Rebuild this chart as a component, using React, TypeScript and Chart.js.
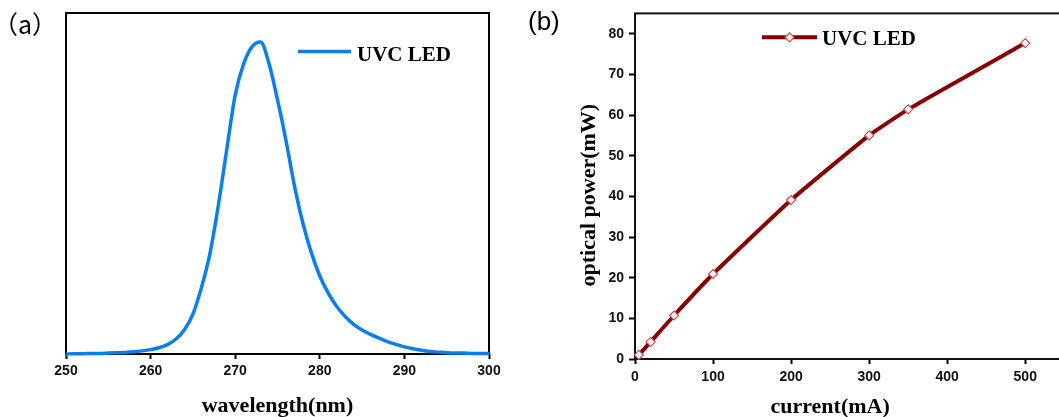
import React, { useEffect, useRef } from "react";
import { Chart, registerables } from "chart.js";

Chart.register(...registerables);

// ---------- data: panel (a) emission spectrum ----------
const wavelengths = [
  250, 251, 252, 253, 254, 255, 256, 257, 258, 259,
  260, 261, 262, 263, 264, 265, 266, 267, 268, 269,
  270, 271, 272, 273, 274, 275, 276, 277, 278, 279,
  280, 281, 282, 283, 284, 285, 286, 287, 288, 289,
  290, 291, 292, 293, 294, 295, 296, 297, 298, 299, 300,
];
const intensity = [
  0.0, 0.001, 0.001, 0.002, 0.002, 0.003, 0.004, 0.005, 0.007, 0.01,
  0.014, 0.02, 0.03, 0.048, 0.078, 0.128, 0.212, 0.32, 0.475, 0.655,
  0.83, 0.93, 0.985, 1.0, 0.93, 0.815, 0.685, 0.54, 0.42, 0.325,
  0.25, 0.195, 0.152, 0.12, 0.095, 0.077, 0.063, 0.051, 0.04, 0.031,
  0.023, 0.017, 0.012, 0.008, 0.006, 0.004, 0.003, 0.003, 0.002, 0.002, 0.002,
];
const wavelengthTicks = [250, 260, 270, 280, 290, 300];

// ---------- data: panel (b) optical power vs current ----------
const currents = [5, 20, 50, 100, 200, 300, 350, 500];
const powers = [1.0, 4.2, 10.7, 20.9, 39.1, 55.0, 61.4, 77.7];
const currentTicks = [0, 100, 200, 300, 400, 500, 600];
const powerTicks = [0, 10, 20, 30, 40, 50, 60, 70, 80];

const seriesLabel = "UVC LED";
const titleA = "wavelength(nm)";
const titleBx = "current(mA)";
const titleBy = "optical power(mW)";
const panelLabelA = "（a）";
const panelLabelB = "(b)";

const SERIF = '"Liberation Serif", "Times New Roman", serif';
const SANS = '"Liberation Sans", Arial, sans-serif';

const framePlugin = (color: string, width: number) => ({
  id: "frame",
  beforeDatasetsDraw(chart: any) {
    const { ctx, chartArea } = chart;
    const { left, top, right, bottom } = chartArea;
    ctx.save();
    ctx.strokeStyle = color;
    ctx.lineWidth = width;
    ctx.strokeRect(left, top, right - left, bottom - top);
    ctx.restore();
  },
});

const legendAPlugin = {
  id: "legendA",
  afterDraw(chart: any) {
    const ctx = chart.ctx;
    const ds = chart.data.datasets[0];
    ctx.save();
    ctx.strokeStyle = ds.borderColor;
    ctx.lineWidth = ds.borderWidth;
    ctx.beginPath();
    ctx.moveTo(298, 51.5);
    ctx.lineTo(351, 51.5);
    ctx.stroke();
    ctx.fillStyle = "#000";
    ctx.font = `bold 21px ${SERIF}`;
    ctx.textBaseline = "alphabetic";
    ctx.textAlign = "left";
    ctx.fillText(ds.label, 357, 60.5);
    ctx.font = `25px "Noto Sans CJK SC", sans-serif`;
    ctx.fillText(panelLabelA, -7, 34);
    ctx.restore();
  },
};

const legendBPlugin = {
  id: "legendB",
  afterDraw(chart: any) {
    const ctx = chart.ctx;
    const ds = chart.data.datasets[0];
    const xs = chart.scales.x;
    const area = chart.chartArea;
    ctx.save();
    // legend
    ctx.strokeStyle = ds.borderColor;
    ctx.lineWidth = ds.borderWidth;
    ctx.beginPath();
    ctx.moveTo(242, 37.3);
    ctx.lineTo(297, 37.3);
    ctx.stroke();
    const cx = 269.5, cy = 37.3, r = ds.pointRadius;
    ctx.beginPath();
    ctx.moveTo(cx - r, cy);
    ctx.lineTo(cx, cy - r);
    ctx.lineTo(cx + r, cy);
    ctx.lineTo(cx, cy + r);
    ctx.closePath();
    ctx.fillStyle = ds.pointBackgroundColor;
    ctx.fill();
    ctx.lineWidth = ds.pointBorderWidth;
    ctx.strokeStyle = ds.pointBorderColor;
    ctx.stroke();
    ctx.fillStyle = "#000";
    ctx.font = `bold 21px ${SERIF}`;
    ctx.textBaseline = "alphabetic";
    ctx.textAlign = "left";
    ctx.fillText(ds.label, 302, 45.2);
    // panel label
    ctx.font = `26px ${SANS}`;
    ctx.fillText(panelLabelB, 8, 29.5);
    // axis titles
    ctx.font = `bold 22px ${SERIF}`;
    ctx.textAlign = "center";
    ctx.textBaseline = "middle";
    ctx.fillText(titleBx, xs.getPixelForValue(250), 407);
    ctx.translate(69, (area.top + area.bottom) / 2 + 9);
    ctx.rotate(-Math.PI / 2);
    ctx.fillText(titleBy, 0, 0);
    ctx.restore();
  },
};

function PanelA() {
  const ref = useRef<HTMLCanvasElement>(null);
  useEffect(() => {
    const chart = new Chart(ref.current!, {
      type: "line",
      data: {
        datasets: [
          {
            label: seriesLabel,
            data: wavelengths.map((w, i) => ({ x: w, y: intensity[i] })),
            borderColor: "#0a7fea",
            borderWidth: 3.5,
            pointRadius: 0,
            cubicInterpolationMode: "monotone",
            fill: false,
            clip: false as any,
          },
        ],
      },
      options: {
        animation: false,
        responsive: false,
        devicePixelRatio: 1,
        layout: { padding: { left: 66, right: 31, top: 13, bottom: 0 } },
        plugins: { legend: { display: false }, tooltip: { enabled: false } },
        scales: {
          x: {
            type: "linear",
            min: 250,
            max: 300,
            afterBuildTicks: (s: any) => {
              s.ticks = wavelengthTicks.map((v) => ({ value: v }));
            },
            afterFit: (s: any) => {
              s.height = 63;
            },
            grid: {
              display: true,
              drawOnChartArea: false,
              drawTicks: true,
              tickLength: 5,
              tickColor: "#000",
              tickWidth: 2,
            },
            border: { display: false },
            ticks: {
              color: "#111",
              padding: 4,
              maxRotation: 0,
              font: { family: SANS, size: 14, weight: "bold" },
            },
            title: {
              display: true,
              text: titleA,
              color: "#000",
              padding: { top: 0, bottom: 0 },
              font: { family: SERIF, size: 22, weight: "bold", lineHeight: 1 },
            },
          },
          y: {
            display: false,
            min: 0,
            max: 1.093,
          },
        },
      },
      plugins: [framePlugin("#000", 2), legendAPlugin],
    } as any);
    return () => chart.destroy();
  }, []);
  return (
    <canvas
      ref={ref}
      width={520}
      height={417}
      style={{ position: "absolute", left: 0, top: 0, width: 520, height: 417 }}
    />
  );
}

function PanelB() {
  const ref = useRef<HTMLCanvasElement>(null);
  useEffect(() => {
    const chart = new Chart(ref.current!, {
      type: "line",
      data: {
        datasets: [
          {
            label: seriesLabel,
            data: currents.map((c, i) => ({ x: c, y: powers[i] })),
            borderColor: "#870000",
            borderWidth: 4,
            pointStyle: "rectRot",
            pointRadius: 4.5,
            pointBackgroundColor: "#ffffff",
            pointBorderColor: "#d04a4a",
            pointBorderWidth: 1.2,
            tension: 0.15,
            fill: false,
            clip: false as any,
          },
        ],
      },
      options: {
        animation: false,
        responsive: false,
        devicePixelRatio: 1,
        layout: { padding: { left: 60, right: 15, top: 13, bottom: 0 } },
        plugins: { legend: { display: false }, tooltip: { enabled: false } },
        scales: {
          x: {
            type: "linear",
            min: 0,
            max: 600,
            afterBuildTicks: (s: any) => {
              s.ticks = currentTicks.map((v) => ({ value: v }));
            },
            afterFit: (s: any) => {
              s.height = 58;
            },
            grid: {
              display: true,
              drawOnChartArea: false,
              drawTicks: true,
              tickLength: 5,
              tickColor: "#000",
              tickWidth: 2,
            },
            border: { display: false },
            ticks: {
              color: "#111",
              padding: 5,
              maxRotation: 0,
              font: { family: SANS, size: 14, weight: "bold" },
            },
          },
          y: {
            type: "linear",
            min: 0,
            max: 85,
            afterBuildTicks: (s: any) => {
              s.ticks = powerTicks.map((v) => ({ value: v }));
            },
            afterFit: (s: any) => {
              s.width = 55;
            },
            grid: {
              display: true,
              drawOnChartArea: false,
              drawTicks: true,
              tickLength: 6,
              tickColor: "#000",
              tickWidth: 2,
            },
            border: { display: false },
            ticks: {
              color: "#111",
              padding: 5,
              font: { family: SANS, size: 14, weight: "bold" },
            },
          },
        },
      },
      plugins: [framePlugin("#111", 2), legendBPlugin],
    } as any);
    return () => chart.destroy();
  }, []);
  return (
    <canvas
      ref={ref}
      width={600}
      height={417}
      style={{ position: "absolute", left: 520, top: 0, width: 600, height: 417 }}
    />
  );
}

export default function App() {
  return (
    <div
      style={{
        position: "fixed",
        left: 0,
        top: 0,
        width: 1059,
        height: 417,
        overflow: "hidden",
        background: "#fff",
      }}
    >
      <PanelA />
      <PanelB />
    </div>
  );
}
